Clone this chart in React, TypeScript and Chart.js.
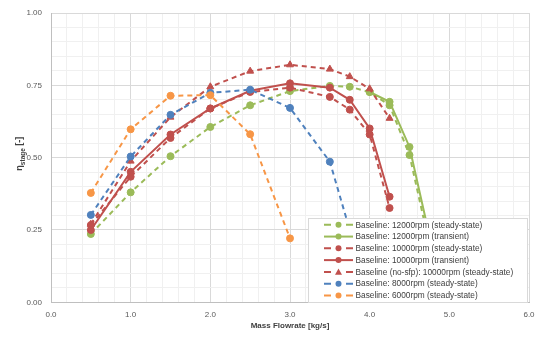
import React, { useEffect, useRef } from "react";
import { Chart, registerables } from "chart.js";

Chart.register(...registerables);

const FONT = "'Liberation Sans', Arial, sans-serif";

// ---- data ----
const flow12000ss = [0.5, 1.0, 1.5, 2.0, 2.5, 3.0, 3.5, 3.75, 4.0, 4.25, 4.5, 4.75];
const eff12000ss = [0.236, 0.38, 0.505, 0.606, 0.681, 0.73, 0.748, 0.745, 0.727, 0.681, 0.509, 0.2];

const flow12000tr = [4.0, 4.25, 4.5, 4.75];
const eff12000tr = [0.727, 0.693, 0.537, 0.23];

const flow10000 = [0.5, 1.0, 1.5, 2.0, 2.5, 3.0, 3.5, 3.75, 4.0, 4.25];
const eff10000ss = [0.267, 0.434, 0.568, 0.67, 0.727, 0.742, 0.71, 0.666, 0.58, 0.326];
const eff10000tr = [0.25, 0.451, 0.58, 0.67, 0.731, 0.757, 0.742, 0.7, 0.601, 0.365];
const eff10000noSfp = [0.27, 0.488, 0.64, 0.745, 0.799, 0.821, 0.806, 0.78, 0.738, 0.636];

const flow8000 = [0.5, 1.0, 1.5, 2.0, 2.5, 3.0, 3.5, 3.75];
const eff8000 = [0.302, 0.504, 0.648, 0.724, 0.735, 0.672, 0.486, 0.25];

const flow6000 = [0.5, 1.0, 1.5, 2.0, 2.5, 3.0];
const eff6000 = [0.378, 0.598, 0.714, 0.716, 0.581, 0.221];

const seriesLabels = [
  "Baseline: 12000rpm (steady-state)",
  "Baseline: 12000rpm (transient)",
  "Baseline: 10000rpm (steady-state)",
  "Baseline: 10000rpm (transient)",
  "Baseline (no-sfp): 10000rpm (steady-state)",
  "Baseline: 8000rpm (steady-state)",
  "Baseline: 6000rpm (steady-state)",
];

const GREEN = "#9BBB59";
const RED = "#C0504D";
const BLUE = "#4F81BD";
const ORANGE = "#F79646";
const DASH = [5, 4];

function pts(xs: number[], ys: number[]) {
  return xs.map((x, i) => ({ x, y: ys[i] }));
}

function ds(label: string, xs: number[], ys: number[], color: string, dashed: boolean, style: string, idx: number) {
  return {
    label,
    data: pts(xs, ys),
    showLine: true,
    borderColor: color,
    backgroundColor: color,
    borderWidth: 2,
    borderDash: dashed ? DASH : [],
    pointStyle: style,
    pointRadius: style === "triangle" ? 4 : 3.5,
    pointBorderWidth: 1,
    pointBorderColor: color,
    pointBackgroundColor: color,
    order: -idx,
  };
}

const legendPlugin = {
  id: "customLegend",
  afterDraw(chart: any) {
    const { ctx, chartArea } = chart;
    const w = 219;
    const h = 84;
    const right = chartArea.right - 2;
    const left = right - w;
    const bottom = chartArea.bottom;
    const top = bottom - h;
    ctx.save();
    ctx.fillStyle = "#FFFFFF";
    ctx.fillRect(left, top, w, h);
    ctx.strokeStyle = "#D9D9D9";
    ctx.lineWidth = 1;
    ctx.strokeRect(Math.round(left) + 0.5, Math.round(top) + 0.5, w, h);
    ctx.font = `8.3px ${FONT}`;
    ctx.textBaseline = "middle";
    ctx.textAlign = "left";
    chart.data.datasets.forEach((d: any, i: number) => {
      const y = top + 6.5 + i * 11.77;
      const x0 = left + 16;
      const x1 = left + 45;
      const xm = (x0 + x1) / 2;
      ctx.strokeStyle = d.borderColor;
      ctx.lineWidth = 2;
      ctx.setLineDash([]);
      ctx.beginPath();
      if (d.borderDash && d.borderDash.length) {
        ctx.moveTo(x0, y);
        ctx.lineTo(x0 + 7, y);
        ctx.moveTo(x1 - 7, y);
        ctx.lineTo(x1, y);
      } else {
        ctx.moveTo(x0, y);
        ctx.lineTo(x1, y);
      }
      ctx.stroke();
      ctx.fillStyle = d.borderColor;
      ctx.beginPath();
      if (d.pointStyle === "triangle") {
        const r = 3.5;
        ctx.moveTo(xm, y - r);
        ctx.lineTo(xm + r, y + r * 0.8);
        ctx.lineTo(xm - r, y + r * 0.8);
        ctx.closePath();
      } else {
        ctx.arc(xm, y, 3, 0, Math.PI * 2);
      }
      ctx.fill();
      ctx.fillStyle = "#404040";
      ctx.fillText(d.label, left + 47.5, y + 0.5);
    });
    ctx.restore();
  },
};

const yTitlePlugin = {
  id: "yTitle",
  afterDraw(chart: any) {
    const { ctx, chartArea } = chart;
    const cx = 11;
    const cy = (chartArea.top + chartArea.bottom) / 2 - 4;
    ctx.save();
    ctx.translate(cx, cy);
    ctx.rotate(-Math.PI / 2);
    ctx.fillStyle = "#404040";
    ctx.textBaseline = "alphabetic";
    ctx.textAlign = "left";
    const mainFont = `bold 9px ${FONT}`;
    const subFont = `bold 6.5px ${FONT}`;
    ctx.font = mainFont;
    const wEta = ctx.measureText("η").width;
    const wTail = ctx.measureText(" [-]").width;
    ctx.font = subFont;
    const wSub = ctx.measureText("stage").width;
    const total = wEta + wSub + wTail;
    let x = -total / 2;
    const base = 3;
    ctx.font = mainFont;
    ctx.fillText("η", x, base);
    x += wEta;
    ctx.font = subFont;
    ctx.fillText("stage", x, base + 2.5);
    x += wSub;
    ctx.font = mainFont;
    ctx.fillText(" [-]", x, base);
    ctx.restore();
  },
};

function near(v: number, step: number) {
  return Math.abs(v / step - Math.round(v / step)) < 1e-6;
}

export default function App() {
  const ref = useRef<HTMLCanvasElement | null>(null);

  useEffect(() => {
    if (!ref.current) return;
    const datasets = [
      ds(seriesLabels[0], flow12000ss, eff12000ss, GREEN, true, "circle", 0),
      ds(seriesLabels[1], flow12000tr, eff12000tr, GREEN, false, "circle", 1),
      ds(seriesLabels[2], flow10000, eff10000ss, RED, true, "circle", 2),
      ds(seriesLabels[3], flow10000, eff10000tr, RED, false, "circle", 3),
      ds(seriesLabels[4], flow10000, eff10000noSfp, RED, true, "triangle", 4),
      ds(seriesLabels[5], flow8000, eff8000, BLUE, true, "circle", 5),
      ds(seriesLabels[6], flow6000, eff6000, ORANGE, true, "circle", 6),
    ];
    const chart = new Chart(ref.current, {
      type: "scatter",
      data: { datasets: datasets as any },
      options: {
        responsive: false,
        animation: false,
        layout: { padding: { top: 4.7, right: 13, left: 0, bottom: 0 } },
        plugins: {
          legend: { display: false },
          tooltip: { enabled: false },
        },
        scales: {
          x: {
            type: "linear",
            min: 0,
            max: 6,
            afterFit: (s: any) => {
              s.height = 28.7;
              s.paddingLeft = 0;
              s.paddingRight = 0;
            },
            ticks: {
              stepSize: 0.2,
              autoSkip: false,
              maxRotation: 0,
              padding: 8,
              color: "#595959",
              font: { family: FONT, size: 8 },
              callback: (v: any) => (near(Number(v), 1) ? Number(v).toFixed(1) : ""),
            },
            grid: {
              drawTicks: false,
              color: (c: any) => (c.tick && near(c.tick.value, 1) ? "#D9D9D9" : "#F0F0F0"),
            },
            border: { color: "#BFBFBF" },
            title: {
              display: true,
              text: "Mass Flowrate [kg/s]",
              color: "#404040",
              font: { family: FONT, size: 8, weight: "bold" },
              padding: { top: 0, bottom: 0 },
            },
          },
          y: {
            type: "linear",
            min: 0,
            max: 1,
            afterFit: (s: any) => {
              s.width = 43;
              s.paddingTop = 0;
              s.paddingBottom = 0;
            },
            ticks: {
              stepSize: 0.05,
              autoSkip: false,
              padding: 9,
              color: "#595959",
              font: { family: FONT, size: 8 },
              callback: (v: any) => (near(Number(v), 0.25) ? Number(v).toFixed(2) : ""),
            },
            grid: {
              drawTicks: false,
              color: (c: any) => (c.tick && near(c.tick.value, 0.25) ? "#D9D9D9" : "#F0F0F0"),
            },
            border: { color: "#BFBFBF" },
          },
        },
      },
      plugins: [legendPlugin, yTitlePlugin],
    });
    return () => chart.destroy();
  }, []);

  return <canvas ref={ref} width={534} height={323} style={{ display: "block" }} />;
}
